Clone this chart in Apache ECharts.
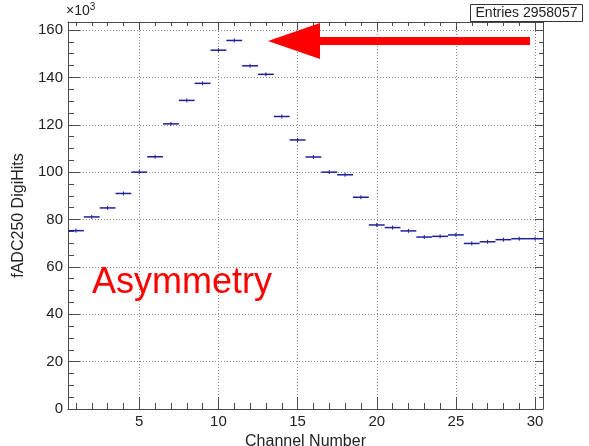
<!DOCTYPE html>
<html><head><meta charset="utf-8">
<script src="https://cdn.jsdelivr.net/npm/echarts@6/dist/echarts.min.js"></script>
<style>html,body{margin:0;padding:0;background:#fff}#c{width:589px;height:446px}</style>
</head><body><div id="c"></div>
<script>
// ---- data (values in units of 10^3) ----
const channels = [1,2,3,4,5,6,7,8,9,10,11,12,13,14,15,16,17,18,19,20,21,22,23,24,25,26,27,28,29,30];
const digiHits = [75.3,81.1,84.9,91.0,100.0,106.5,120.4,130.3,137.5,151.5,155.6,144.9,141.3,123.5,113.6,106.4,100.0,98.9,89.4,77.7,76.6,75.2,72.6,72.9,73.5,69.9,70.6,71.5,71.9,71.9];
const xMajorTicks = [5,10,15,20,25,30];
const xMinorTicks = [1,2,3,4,5,6,7,8,9,10,11,12,13,14,15,16,17,18,19,20,21,22,23,24,25,26,27,28,29,30];
const yMajorTicks = [0,20,40,60,80,100,120,140,160];
const yMinorTicks = [0,5,10,15,20,25,30,35,40,45,50,55,60,65,70,75,80,85,90,95,100,105,110,115,120,125,130,135,140,145,150,155,160];
const xRange = [0.5, 30.5];
const yRange = [0, 163.4];
const xTitle = 'Channel Number';
const yTitle = 'fADC250 DigiHits';
const entriesLabel = 'Entries 2958057';
const annotation = 'Asymmetry';

const FONT = 'Liberation Sans, Arial, sans-serif';
const AX = '#4a4a4a';
const TXT = '#222';
const MARK = '#1f1f99';

function xAx(pos, ticks, len, opts) {
  return Object.assign({
    type: 'value', position: pos, min: xRange[0], max: xRange[1],
    axisLine: { show: false, onZero: false },
    axisTick: { show: true, inside: true, length: len, customValues: ticks, lineStyle: { color: AX, width: 1 } },
    axisLabel: { show: false },
    splitLine: { show: false }
  }, opts || {});
}
function yAx(pos, ticks, len, opts) {
  return Object.assign({
    type: 'value', position: pos, min: yRange[0], max: yRange[1],
    axisLine: { show: false, onZero: false },
    axisTick: { show: true, inside: true, length: len, customValues: ticks, lineStyle: { color: AX, width: 1 } },
    axisLabel: { show: false },
    splitLine: { show: false }
  }, opts || {});
}
const grid = { left: 68, right: 46, top: 22, bottom: 37, containLabel: false, outerBoundsMode: 'none' };
const dotted = { show: true, lineStyle: { color: '#888', width: 1, type: [1, 2] } };

const option = {
  animation: false,
  backgroundColor: '#fff',
  grid: grid,
  xAxis: [
    xAx('bottom', xMajorTicks, 12, {
      axisLine: { show: true, onZero: false, lineStyle: { color: AX, width: 1 } },
      axisLabel: { show: true, customValues: xMajorTicks, margin: 5, fontSize: 15, color: TXT, fontFamily: FONT },
      splitLine: dotted,
      name: xTitle, nameLocation: 'middle', nameGap: 21,
      nameTextStyle: { fontSize: 16, color: TXT, fontFamily: FONT }
    }),
    xAx('bottom', xMinorTicks, 6),
    xAx('top', xMajorTicks, 8, { axisLine: { show: true, onZero: false, lineStyle: { color: AX, width: 1 } } }),
    xAx('top', xMinorTicks, 4)
  ],
  yAxis: [
    yAx('left', yMajorTicks, 12, {
      axisLine: { show: true, onZero: false, lineStyle: { color: AX, width: 1 } },
      axisLabel: { show: true, customValues: yMajorTicks, margin: 5, fontSize: 15, color: TXT, fontFamily: FONT },
      splitLine: dotted,
      name: yTitle, nameLocation: 'middle', nameGap: 33, nameRotate: 90,
      nameTextStyle: { fontSize: 16, color: TXT, fontFamily: FONT }
    }),
    yAx('left', yMinorTicks, 6),
    yAx('right', yMajorTicks, 8, { axisLine: { show: true, onZero: false, lineStyle: { color: AX, width: 1 } } }),
    yAx('right', yMinorTicks, 4)
  ],
  series: [{
    type: 'custom',
    xAxisIndex: 0, yAxisIndex: 0,
    data: channels.map((c, i) => [c, digiHits[i]]),
    renderItem: function (params, api) {
      const x = api.value(0), y = api.value(1);
      const a = api.coord([x - 0.5, y]);
      const b = api.coord([x + 0.5, y]);
      const c = api.coord([x, y]);
      const st = { stroke: MARK, lineWidth: 1.5 };
      return {
        type: 'group',
        children: [
          { type: 'line', shape: { x1: a[0], y1: a[1], x2: b[0], y2: b[1] }, style: st },
          { type: 'line', shape: { x1: c[0], y1: c[1] - 2, x2: c[0], y2: c[1] + 2 }, style: { stroke: MARK, lineWidth: 1 } }
        ]
      };
    }
  }],
  graphic: [
    { type: 'text', left: 66, top: 2, style: {
        text: '×10{s|3}', font: '14px ' + FONT, fill: TXT,
        rich: { s: { fontSize: 10, verticalAlign: 'top', fontFamily: FONT, fill: TXT, padding: [0, 0, 8, 0] } }
    } },
    { type: 'rect', shape: { x: 470.5, y: 4.5, width: 112, height: 17 }, style: { fill: '#fff', stroke: '#333', lineWidth: 1 }, z: 10 },
    { type: 'text', x: 526.5, y: 13.5, style: { text: entriesLabel, font: '14px ' + FONT, fill: TXT, align: 'center', verticalAlign: 'middle' }, z: 11 },
    { type: 'polygon', shape: { points: [[268, 41], [320, 23], [320, 37], [530, 37], [530, 45], [320, 45], [320, 59]] }, style: { fill: '#ff0000' }, z: 10 },
    { type: 'text', x: 92, y: 283, style: { text: annotation, font: '36px ' + FONT, fill: '#ff0000', align: 'left', verticalAlign: 'middle' }, z: 10 }
  ]
};
const chart = echarts.init(document.getElementById('c'), null, { renderer: 'canvas' });
chart.setOption(option);
</script>
</body></html>
